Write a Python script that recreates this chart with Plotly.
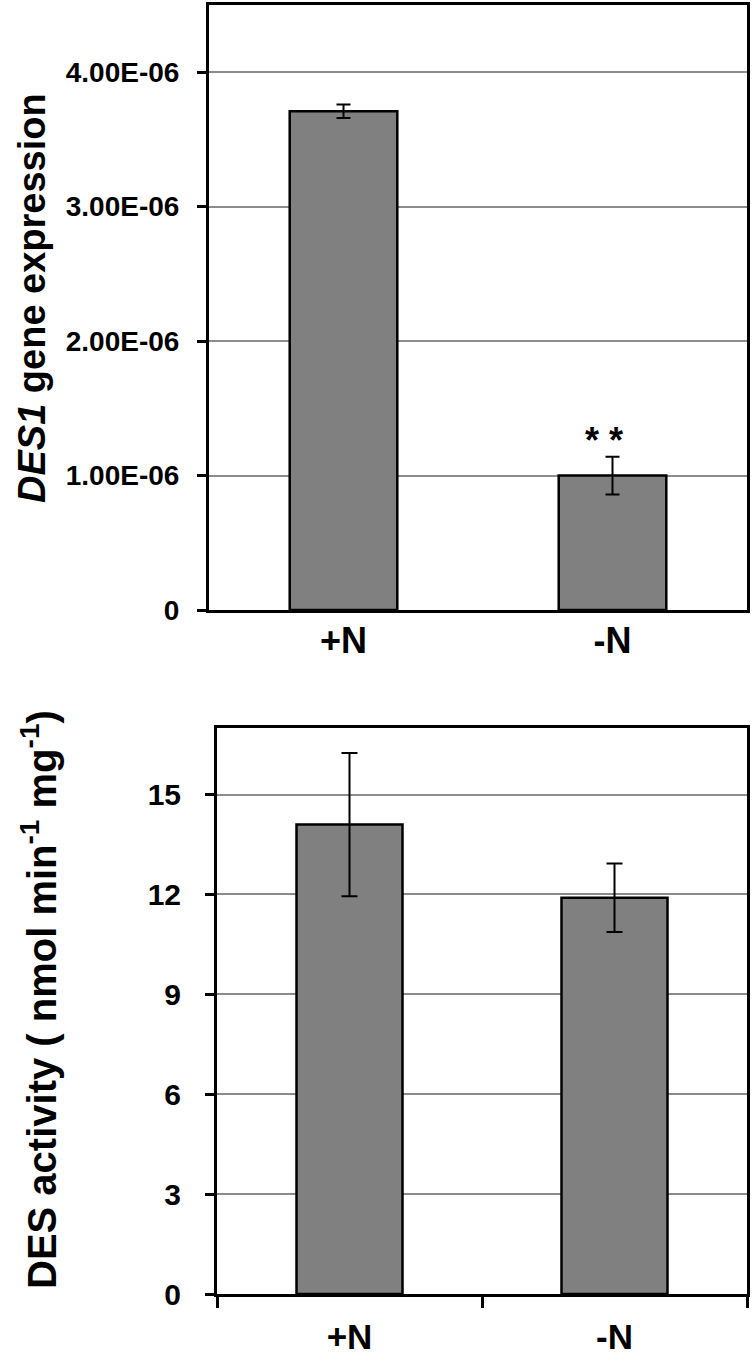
import plotly.graph_objects as go

categories = ["+N", "-N"]
expr_values = [3.71e-6, 1.00e-6]
expr_errors = [0.05e-6, 0.14e-6]
expr_tickvals = [0, 1e-6, 2e-6, 3e-6, 4e-6]
expr_ticktext = ["0", "1.00E-06", "2.00E-06", "3.00E-06", "4.00E-06"]
act_values = [14.1, 11.9]
act_errors = [2.15, 1.03]
act_tickvals = [0, 3, 6, 9, 12, 15]
signif = ["", "* *"]

W, H = 752, 1360
FONT = "Liberation Sans, Arial, sans-serif"
BAR = "#808080"
GRID = "#8c8c8c"

fig = go.Figure()
fig.add_trace(go.Bar(x=categories, y=expr_values, width=0.4,
                     marker=dict(color=BAR, line=dict(color="black", width=2.5)),
                     error_y=dict(type="data", array=expr_errors, color="black", thickness=2, width=7),
                     xaxis="x", yaxis="y", showlegend=False))
fig.add_trace(go.Bar(x=categories, y=act_values, width=0.4,
                     marker=dict(color=BAR, line=dict(color="black", width=2.5)),
                     error_y=dict(type="data", array=act_errors, color="black", thickness=2, width=8),
                     xaxis="x2", yaxis="y2", showlegend=False))

def bold(size):
    return dict(family=FONT, size=size, color="black", weight="bold")

fig.update_layout(
    width=W, height=H, margin=dict(l=0, r=0, t=0, b=0, autoexpand=False),
    paper_bgcolor="white", plot_bgcolor="white",
    xaxis=dict(domain=[209/W, 747/W], anchor="y", showline=True, linecolor="black", linewidth=3,
               mirror=True, ticks="", tickfont=bold(36), ticklabelstandoff=-3, showgrid=False),
    yaxis=dict(domain=[1-610/H, 1-5/H], anchor="x", range=[0, 4.5e-6], showline=True, linecolor="black",
               linewidth=3, mirror=True, ticks="outside", ticklen=9, tickwidth=3, tickcolor="black",
               tickvals=expr_tickvals, ticktext=expr_ticktext, tickfont=bold(28), ticklabelstandoff=12,
               showgrid=True, gridcolor=GRID, gridwidth=2, zeroline=False),
    xaxis2=dict(domain=[217/W, 747/W], anchor="y2", showline=True, linecolor="black", linewidth=3,
                mirror=True, ticks="outside", tickson="boundaries", ticklen=11, tickwidth=3,
                tickcolor="black", tickfont=bold(35), ticklabelstandoff=10, showgrid=False),
    yaxis2=dict(domain=[1-1294/H, 1-728/H], anchor="x2", range=[0, 17], showline=True, linecolor="black",
                linewidth=3, mirror=True, ticks="outside", ticklen=9, tickwidth=3, tickcolor="black",
                tickvals=act_tickvals, tickfont=bold(30), ticklabelstandoff=18,
                showgrid=True, gridcolor=GRID, gridwidth=2, zeroline=False),
)

for c, v, e, s in zip(categories, expr_values, expr_errors, signif):
    if s:
        fig.add_annotation(x=c, y=v + e, xref="x", yref="y", text=s, showarrow=False,
                           yanchor="middle", yshift=16, xshift=-9, font=bold(36))

fig.add_annotation(x=32/W, y=1-298/H, xref="paper", yref="paper", textangle=-90, showarrow=False,
                   xanchor="center", yanchor="middle",
                   text="<i>DES1</i> gene expression", font=bold(38))
fig.add_annotation(x=39/W, y=1-1000/H, xref="paper", yref="paper", textangle=-90, showarrow=False,
                   xanchor="center", yanchor="middle",
                   text="DES activity ( nmol min<sup>-1</sup> mg<sup>-1</sup>)", font=bold(40))

fig.write_html("out.html", config={"displayModeBar": False},
               post_script="document.body.style.margin='0';document.body.style.padding='0';")
